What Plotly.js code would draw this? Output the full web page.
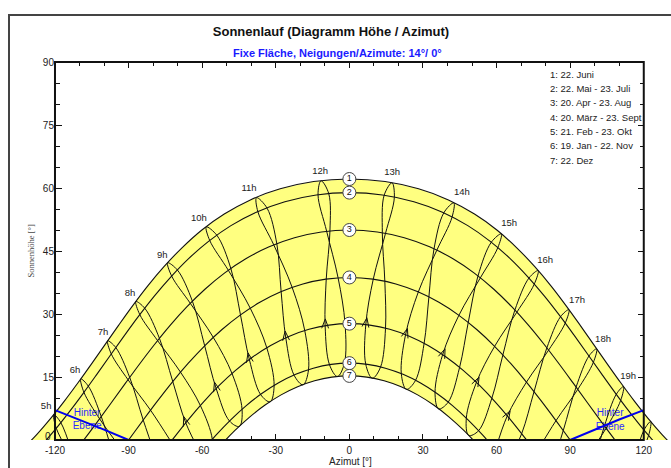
<!DOCTYPE html>
<html><head><meta charset="utf-8">
<script src="https://cdn.plot.ly/plotly-3.0.1.min.js"></script>
<style>html,body{margin:0;padding:0;background:#fff;}#chart{width:671px;height:468px;}</style>
</head><body><div id="chart"></div>
<script>
// ---- day curves (azimuth [deg], altitude [deg]) ----
const c1Az = [-133.24,-127.37,-121.66,-116.1,-110.62,-105.17,-99.68,-94.1,-88.3,-82.17,-75.58,-68.34,-60.25,-51.0,-40.38,-28.2,-14.56,0,14.56,28.2,40.38,51.0,60.25,68.34,75.58,82.17,88.3,94.1,99.68,105.17,110.62,116.1,121.66,127.37,133.24];
const c1Alt = [-2.22,1.35,5.22,9.32,13.62,18.08,22.66,27.3,32.0,36.7,41.27,45.7,49.95,53.8,57.17,59.8,61.53,62.14,61.53,59.8,57.17,53.8,49.95,45.7,41.27,36.7,32.0,27.3,22.66,18.08,13.62,9.32,5.22,1.35,-2.22];
const c2Az = [-125.6,-119.78,-114.1,-108.5,-102.95,-97.36,-91.66,-85.75,-79.52,-72.83,-65.53,-57.41,-48.28,-37.93,-26.29,-13.5,0,13.5,26.29,37.93,48.28,57.41,65.53,72.83,79.52,85.75,91.66,97.36,102.95,108.5,114.1,119.78,125.6];
const c2Alt = [-1.37,2.58,6.76,11.12,15.63,20.25,24.91,29.6,34.26,38.8,43.19,47.3,51.04,54.25,56.74,58.35,58.9,58.35,56.74,54.25,51.04,47.3,43.19,38.8,34.26,29.6,24.91,20.25,15.63,11.12,6.76,2.58,-1.37];
const c3Az = [-114.63,-108.7,-102.89,-97.12,-91.33,-85.44,-79.35,-72.97,-66.18,-58.88,-50.93,-42.23,-32.7,-22.37,-11.38,0,11.38,22.37,32.7,42.23,50.93,58.88,66.18,72.97,79.35,85.44,91.33,97.12,102.89,108.7,114.63];
const c3Alt = [-4.69,-0.33,4.18,8.8,13.47,18.16,22.8,27.35,31.74,35.9,39.74,43.15,46.0,48.17,49.53,50.0,49.53,48.17,46.0,43.15,39.74,35.9,31.74,27.35,22.8,18.16,13.47,8.8,4.18,-0.33,-4.69];
const c4Az = [-95.87,-90,-84.13,-78.19,-72.09,-65.74,-59.09,-52.03,-44.52,-36.5,-27.96,-18.95,-9.58,0,9.58,18.95,27.96,36.5,44.52,52.03,59.09,65.74,72.09,78.19,84.13,90,95.87];
const c4Alt = [-4.68,0,4.68,9.31,13.85,18.22,22.37,26.24,29.74,32.78,35.28,37.15,38.3,38.7,38.3,37.15,35.28,32.78,29.74,26.24,22.37,18.22,13.85,9.31,4.68,0,-4.68];
const c5Az = [-77.3,-71.48,-65.55,-59.42,-53.06,-46.4,-39.42,-32.09,-24.43,-16.47,-8.3,0,8.3,16.47,24.43,32.09,39.42,46.4,53.06,59.42,65.55,71.48,77.3];
const c5Alt = [-3.94,0.57,4.93,9.09,12.99,16.57,19.76,22.5,24.71,26.35,27.35,27.7,27.35,26.35,24.71,22.5,19.76,16.57,12.99,9.09,4.93,0.57,-3.94];
const c6Az = [-60.11,-54.28,-48.27,-42.03,-35.56,-28.84,-21.87,-14.7,-7.39,0,7.39,14.7,21.87,28.84,35.56,42.03,48.27,54.28,60.11];
const c6Alt = [-2.73,1.2,4.86,8.19,11.12,13.62,15.63,17.1,18.0,18.3,18.0,17.1,15.63,13.62,11.12,8.19,4.86,1.2,-2.73];
const c7Az = [-52.63,-46.75,-40.67,-34.36,-27.83,-21.09,-14.17,-7.12,0,7.12,14.17,21.09,27.83,34.36,40.67,46.75,52.63];
const c7Alt = [-1.35,2.22,5.46,8.32,10.74,12.68,14.1,14.97,15.26,14.97,14.1,12.68,10.74,8.32,5.46,2.22,-1.35];

// ---- hour analemmas (clock time) ----
const a05Az = [-112.83,-117.64,-120.51,-119.48,-113.52];
const a05Alt = [-3.36,4.16,6.07,2.8,-3.88];
const a06Az = [-95.78,-101.14,-106.41,-109.49,-108.2,-101.81,-92.82];
const a06Alt = [-4.61,5.58,12.82,14.54,11.36,5.04,-2.25];
const a07Az = [-78.42,-84.03,-89.54,-95.21,-98.53,-97.06,-90.23,-81.04,-72.72];
const a07Alt = [-4.83,4.75,14.9,22.01,23.62,20.5,14.35,7.09,-0.39];
const a08Az = [-60.66,-66.7,-71.99,-77.41,-83.4,-87.03,-85.42,-78.16,-68.79,-60.73,-55.87,-56.53];
const a08Alt = [-3.14,4.09,13.92,24.18,31.36,32.97,29.85,23.65,16.12,8.2,0.13,-3.99];
const a09Az = [-44.82,-48.85,-54.29,-58.98,-63.96,-70.08,-74.08,-72.44,-64.82,-55.42,-47.82,-43.74,-44.82];
const a09Alt = [3.25,4.5,12.24,22.43,33.0,40.46,42.19,39.03,32.52,24.38,15.81,7.28,3.25];
const a10Az = [-32.29,-36.19,-40.77,-44.39,-48.29,-53.97,-58.34,-56.92,-49.31,-40.35,-33.65,-30.68,-32.29];
const a10Alt = [9.09,10.83,19.14,29.79,40.78,48.71,50.75,47.5,40.38,31.32,21.92,12.94,9.09];
const a11Az = [-18.89,-22.55,-25.91,-27.82,-29.56,-33.54,-37.86,-37.31,-30.77,-23.27,-18.17,-16.66,-18.89];
const a11Alt = [13.13,15.43,24.28,35.31,46.66,55.19,57.71,54.38,46.4,36.25,26.0,16.7,13.13];
const a12Az = [-4.86,-8.1,-9.88,-9.43,-7.92,-8.41,-11.55,-12.78,-9.26,-4.6,-1.77,-2.02,-4.86];
const a12Alt = [15.12,17.91,27.16,38.32,49.77,58.66,61.72,58.4,49.68,38.61,27.69,18.28,15.12];
const a13Az = [9.36,6.67,6.7,9.73,14.72,18.33,17.38,14.18,13.43,14.45,14.73,12.7,9.36];
const a13Alt = [14.69,18.05,27.48,38.29,49.18,57.8,61.25,58.28,49.33,37.77,26.56,17.35,14.69];
const a14Az = [23.23,21.17,22.89,28.1,35.6,41.84,42.58,38.48,34.48,32.4,30.46,26.94,23.23];
const a14Alt = [12.06,15.77,25.03,35.24,45.13,53.04,56.47,54.08,45.47,33.98,22.97,14.17,12.06];
const a15Az = [36.36,34.91,38.0,44.64,53.35,60.47,61.92,57.84,52.41,48.43,44.91,40.26,36.36];
const a15Alt = [7.41,11.36,20.29,29.68,38.57,45.75,49.07,47.08,39.02,27.92,17.25,8.99,7.41];
const a16Az = [48.62,47.66,51.77,59.2,68.24,75.35,76.94,73.19,67.45,62.55,58.06,52.64,48.62];
const a16Alt = [1.09,5.18,13.68,22.3,30.41,37.09,40.33,38.56,30.92,20.21,9.92,2.2,1.09];
const a17Az = [59.54,64.37,72.19,81.2,87.98,89.5,86.06,80.49,75.26,70.22,64.23];
const a17Alt = [-2.35,5.73,13.78,21.39,27.83,31.03,29.35,21.93,11.49,1.5,-5.77];
const a18Az = [76.17,84.22,93.09,99.47,100.81,97.66,92.41,87.18,81.84];
const a18Alt = [-3.07,4.61,12.05,18.51,21.71,20.0,12.6,2.25,-7.57];
const a19Az = [95.96,104.66,110.61,111.75,108.8,103.97,98.96];
const a19Alt = [-4.75,2.81,9.47,12.73,10.89,3.34,-7.09];
const a20Az = [116.49,121.98,122.84,120.09,115.77];
const a20Alt = [-5.95,1.09,4.42,2.37,-5.46];

// ---- labels ----
const hourText = ['5h','6h','7h','8h','9h','10h','11h','12h','13h','14h','15h','16h','17h','18h','19h'];
const hourAz = [-123.6,-111.8,-100.4,-89.4,-76.3,-61.3,-40.9,-11.9,17.4,45.9,65.1,79.8,92.8,103.4,113.6];
const hourAlt = [7.9,16.4,25.5,34.8,44.0,52.6,59.8,64.0,63.6,58.8,51.4,42.6,33.1,23.8,15.0];
const dayNum = ['1','2','3','4','5','6','7'];
const dayNumAz = [0,0,0,0,0,0,0];
const dayNumAlt = [62.14,58.9,50.0,38.7,27.7,18.3,15.26];
const legendText = ['1: 22. Juni','2: 22. Mai - 23. Juli','3: 20. Apr - 23. Aug','4: 20. März - 23. Sept','5: 21. Feb - 23. Okt','6: 19. Jan - 22. Nov','7: 22. Dez'];

// ---- plane of the tilted surface ("Hinter Ebene") ----
const planeLAz = [-120,-110,-100,-90];
const planeLAlt = [7.1,4.87,2.48,0];
const planeRAz = [90,100,110,120];
const planeRAlt = [0,2.48,4.87,7.1];

// ---- direction arrows on the analemmas ----
const arrowAz = [-67.49,-54.99,-41.31,-26.2,-9.81,7.15,23.67,39.0,52.88,65.54];
const arrowAlt = [5.56,13.77,20.74,25.93,28.83,29.1,26.56,21.7,14.97,6.94];
const arrowAngle = [-17,-15,-11,-6,1,9,17,22,27,30];

// ---- axis ticks ----
const xTickVals = [-120,-90,-60,-30,0,30,60,90,120];
const xTickText = ['-120','-90','-60','-30','0','30','60','90','120'];
const yTickVals = [0,15,30,45,60,75,90];
const yTickText = ['','15','30','45','60','75','90'];
const yZeroLabel = '0';

const X_MIN = -131, X_MAX = 131.1;
const ML = 28, MR = 0, MT = 62, MB = 28, W = 671, H = 468;
const plotW = W - ML - MR, plotH = H - MT - MB;
const pxX = plotW / (X_MAX - X_MIN), pxY = plotH / 90;
const paperX = v => (v - X_MIN) / (X_MAX - X_MIN);

const xMinor = [], yMinor = [];
for (let v = -110; v <= 110; v += 10) if (v % 30 !== 0) xMinor.push(v);
for (let v = 5; v < 90; v += 5) if (v % 15 !== 0) yMinor.push(v);

const traces = [];
// yellow area between 22 June and 22 Dec
traces.push({x: c1Az.concat(c7Az.slice().reverse()), y: c1Alt.concat(c7Alt.slice().reverse()),
  mode: 'none', fill: 'toself', fillcolor: '#ffff80', hoverinfo: 'skip', type: 'scatter'});
// Hinter Ebene text
traces.push({x: [-106.9,-106.9,106.3,106.3], y: [6.4,3.1,6.2,2.9], mode: 'text',
  text: ['Hinter','Ebene','Hinter','Ebene'], textfont: {size: 10, color: '#2a2aff'},
  textposition: 'middle center', cliponaxis: false, hoverinfo: 'skip'});
// day curves
[[c1Az,c1Alt],[c2Az,c2Alt],[c3Az,c3Alt],[c4Az,c4Alt],[c5Az,c5Alt],[c6Az,c6Alt],[c7Az,c7Alt]].forEach(c => {
  traces.push({x: c[0], y: c[1], mode: 'lines', line: {color: '#111', width: 1.1, shape: 'spline', smoothing: 1}, hoverinfo: 'skip'});
});
// analemmas
[[a05Az,a05Alt],[a06Az,a06Alt],[a07Az,a07Alt],[a08Az,a08Alt],[a09Az,a09Alt],[a10Az,a10Alt],[a11Az,a11Alt],[a12Az,a12Alt],
 [a13Az,a13Alt],[a14Az,a14Alt],[a15Az,a15Alt],[a16Az,a16Alt],[a17Az,a17Alt],[a18Az,a18Alt],[a19Az,a19Alt],[a20Az,a20Alt]].forEach(a => {
  traces.push({x: a[0], y: a[1], mode: 'lines', line: {color: '#111', width: 1, shape: 'spline', smoothing: 1}, hoverinfo: 'skip'});
});
// arrows (chevrons)
const chevX = [], chevY = [];
arrowAz.forEach((az, i) => {
  const th = arrowAngle[i] * Math.PI / 180, ph = 20 * Math.PI / 180, L = 10;
  const bx = -Math.sin(th), by = Math.cos(th);
  const leg = s => {
    const c = Math.cos(s * ph), sn = Math.sin(s * ph);
    const ox = L * (bx * c - by * sn), oy = L * (bx * sn + by * c);
    return [az + ox / pxX, arrowAlt[i] - oy / pxY];
  };
  const p = leg(1), q = leg(-1);
  chevX.push(p[0], az, q[0], null); chevY.push(p[1], arrowAlt[i], q[1], null);
});
traces.push({x: chevX, y: chevY, mode: 'lines', line: {color: '#111', width: 1}, hoverinfo: 'skip', connectgaps: false});
// plane lines
traces.push({x: planeLAz, y: planeLAlt, mode: 'lines', line: {color: '#0000ee', width: 2}, hoverinfo: 'skip'});
traces.push({x: planeRAz, y: planeRAlt, mode: 'lines', line: {color: '#0000ee', width: 2}, hoverinfo: 'skip'});
// day numbers
traces.push({x: dayNumAz, y: dayNumAlt, mode: 'markers+text', text: dayNum, textposition: 'middle center',
  marker: {size: 13, color: '#fff', line: {color: '#444', width: 1}}, textfont: {size: 9, color: '#111'},
  cliponaxis: false, hoverinfo: 'skip'});
// hour labels
traces.push({x: hourAz, y: hourAlt, mode: 'text', text: hourText, textposition: 'middle center',
  textfont: {size: 9.5, color: '#222'}, cliponaxis: false, hoverinfo: 'skip'});
// dummy traces for secondary axes
traces.push({x: [null], y: [null], xaxis: 'x2', yaxis: 'y', mode: 'markers', hoverinfo: 'skip'});
traces.push({x: [null], y: [null], xaxis: 'x', yaxis: 'y2', mode: 'markers', hoverinfo: 'skip'});

const annotations = [];
annotations.push({text: '<b>Fixe Fläche, Neigungen/Azimute: 14°/ 0°</b>', xref: 'paper', yref: 'paper',
  x: (337 - ML) / plotW, y: (H - MB - 53) / plotH, xanchor: 'center', yanchor: 'middle', showarrow: false,
  font: {size: 11, color: '#1a1aff'}});
annotations.push({text: 'Sonnenhöhe [°]', xref: 'paper', yref: 'paper', x: (30.5 - ML) / plotW, y: 0.5,
  textangle: -90, xanchor: 'center', yanchor: 'middle', showarrow: false,
  font: {family: 'Liberation Serif, Times New Roman, serif', size: 8.5, color: '#444'}});
annotations.push({text: 'Azimut [°]', xref: 'paper', yref: 'paper', x: (350 - ML) / plotW, y: (H - MB - 461) / plotH,
  xanchor: 'center', yanchor: 'middle', showarrow: false, font: {size: 10, color: '#222'}});
annotations.push({text: yZeroLabel, xref: 'paper', yref: 'paper', x: (52 - ML) / plotW, y: (H - MB - 436) / plotH,
  xanchor: 'right', yanchor: 'middle', showarrow: false, borderpad: 0, font: {size: 10, color: '#222'}});
legendText.forEach((t, i) => {
  annotations.push({text: t, xref: 'paper', yref: 'paper', x: (548 - ML) / plotW, y: (H - MB - (74 + 14.35 * i)) / plotH,
    xanchor: 'left', yanchor: 'middle', showarrow: false, font: {size: 9.5, color: '#222'}});
});

const tickCommon = {showgrid: false, zeroline: false, showline: false, ticks: 'inside', tickcolor: '#111', tickwidth: 1, layer: 'below traces', fixedrange: true};
const layout = {
  width: W, height: H, margin: {l: ML, r: MR, t: MT, b: MB, pad: 0},
  paper_bgcolor: '#fff', plot_bgcolor: 'rgba(0,0,0,0)', showlegend: false,
  font: {family: 'Liberation Sans, Arial, sans-serif', size: 10, color: '#222'},
  title: {text: '<b>Sonnenlauf (Diagramm Höhe / Azimut)</b>', font: {size: 13, color: '#111'},
    xref: 'container', yref: 'container', x: 331 / W, y: 1 - 31 / H, xanchor: 'center', yanchor: 'middle'},
  xaxis: Object.assign({}, tickCommon, {range: [X_MIN, X_MAX], tickmode: 'array', tickvals: xTickVals, ticktext: xTickText,
    ticklen: 6, ticklabelstandoff: 3, tickfont: {size: 10, color: '#222'},
    minor: {tickmode: 'array', tickvals: xMinor, ticks: 'inside', ticklen: 4, tickcolor: '#111', tickwidth: 1}}),
  xaxis2: Object.assign({}, tickCommon, {range: [X_MIN, X_MAX], overlaying: 'x', side: 'top', anchor: 'y', showticklabels: false,
    tickmode: 'array', tickvals: [-90,-60,-30,0,30,60,90], ticklen: 6,
    minor: {tickmode: 'array', tickvals: xMinor, ticks: 'inside', ticklen: 4, tickcolor: '#111', tickwidth: 1}}),
  yaxis: Object.assign({}, tickCommon, {range: [0, 90], anchor: 'free', position: paperX(-120), side: 'left',
    tickmode: 'array', tickvals: yTickVals, ticktext: yTickText, ticklen: 6, ticklabelstandoff: 1, tickfont: {size: 10, color: '#222'},
    minor: {tickmode: 'array', tickvals: yMinor, ticks: 'inside', ticklen: 4, tickcolor: '#111', tickwidth: 1}}),
  yaxis2: Object.assign({}, tickCommon, {range: [0, 90], overlaying: 'y', anchor: 'free', position: paperX(120), side: 'right',
    showticklabels: false, tickmode: 'array', tickvals: [15,30,45,60,75], ticklen: 6,
    minor: {tickmode: 'array', tickvals: yMinor, ticks: 'inside', ticklen: 4, tickcolor: '#111', tickwidth: 1}}),
  shapes: [
    {type: 'rect', xref: 'paper', yref: 'paper', x0: paperX(-120), x1: paperX(120), y0: 0, y1: 1, line: {color: '#111', width: 2}, layer: 'above'},
    {type: 'rect', xref: 'paper', yref: 'paper', x0: (9 - ML) / plotW, x1: 1.2, y0: -0.3, y1: (H - MB - 15) / plotH, line: {color: '#444', width: 2}, layer: 'above'}
  ],
  annotations: annotations
};
Plotly.newPlot('chart', traces, layout, {staticPlot: true, displayModeBar: false});
</script></body></html>
